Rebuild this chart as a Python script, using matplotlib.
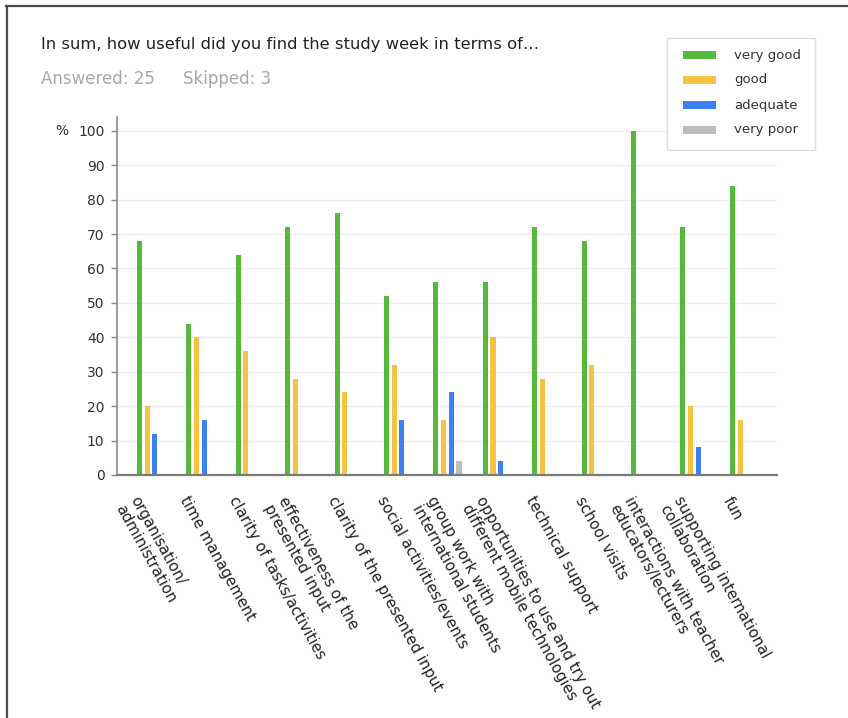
import matplotlib
matplotlib.use("Agg")
import matplotlib.pyplot as plt
import matplotlib.transforms as mtransforms
from matplotlib.lines import Line2D
from matplotlib.patches import Rectangle
import numpy as np

plt.rcParams["font.family"] = ["DejaVu Sans"]

# Survey results (% of respondents)
categories = [
    "organisation/\nadministration",
    "time management",
    "clarity of tasks/activities",
    "effectiveness of the\npresented input",
    "clarity of the presented input",
    "social activities/events",
    "group work with\ninternational students",
    "opportunities to use and try out\ndifferent mobile technologies",
    "technical support",
    "school visits",
    "interactions with teacher\neducators/lecturers",
    "supporting international\ncollaboration",
    "fun",
]
very_good = [68, 44, 64, 72, 76, 52, 56, 56, 72, 68, 100, 72, 84]
good = [20, 40, 36, 28, 24, 32, 16, 40, 28, 32, 0, 20, 16]
adequate = [12, 16, 0, 0, 0, 16, 24, 4, 0, 0, 0, 8, 0]
very_poor = [0, 0, 0, 0, 0, 0, 4, 0, 0, 0, 0, 0, 0]

series_names = ["very good", "good", "adequate", "very poor"]
series_values = [very_good, good, adequate, very_poor]
series_colors = ["#57b93c", "#f5c242", "#3b80f4", "#bdbdbd"]
y_ticks = [0, 10, 20, 30, 40, 50, 60, 70, 80, 90, 100]

W, H = 848, 718
fig = plt.figure(figsize=(W / 100, H / 100), dpi=100)
fig.patch.set_facecolor("white")

ax = fig.add_axes([117 / W, 243 / H, (777 - 117) / W, (601 - 243) / H])

x = np.arange(len(categories))
pitch = 0.156
bar_w = 0.102
for k, (name, vals, col) in enumerate(zip(series_names, series_values, series_colors)):
    offs = (k - 1.5) * pitch
    vals = np.array(vals, dtype=float)
    mask = vals > 0
    ax.bar(x[mask] + offs, vals[mask], width=bar_w, color=col, linewidth=0, zorder=3)

ax.set_xlim(-0.688, 12.67)
ax.set_ylim(0, 104)
ax.set_yticks(y_ticks)
ax.set_yticklabels([str(v) for v in y_ticks], fontsize=10, color="#333333")
ax.tick_params(axis="y", length=4, width=1, color="#888888", pad=5)
ax.set_xticks([])

for v in y_ticks[1:]:
    ax.axhline(v, color="#ececec", linewidth=1, zorder=1)

for s in ["top", "right"]:
    ax.spines[s].set_visible(False)
ax.spines["left"].set_color("#8a8a8a")
ax.spines["left"].set_linewidth(1.2)
ax.spines["bottom"].set_color("#7a7a7a")
ax.spines["bottom"].set_linewidth(1.6)
ax.spines["bottom"].set_zorder(4)

# rotated category labels
offset = mtransforms.ScaledTranslation(-10.5 / 100, -19 / 100, fig.dpi_scale_trans)
for i, lab in enumerate(categories):
    ax.text(i, 0, lab, transform=ax.transData + offset,
            rotation=-61, rotation_mode="anchor", ha="left", va="top",
            fontsize=10.8, color="#222222", linespacing=1.15)

# "%" unit next to the top tick
fig.text(55 / W, 1 - 131 / H, "%", fontsize=10, color="#333333", ha="left", va="center")

# heading
fig.text(41 / W, 1 - 45 / H, "In sum, how useful did you find the study week in terms of\u2026",
         fontsize=11.8, color="#222222", ha="left", va="center")
fig.text(41 / W, 1 - 79 / H, "Answered: 25", fontsize=12, color="#a8a8a8",
         ha="left", va="center")
fig.text(183 / W, 1 - 79 / H, "Skipped: 3", fontsize=12, color="#a8a8a8",
         ha="left", va="center")

# legend box with colour keys
def fx(px):
    return px / W

def fy(py):
    return 1 - py / H

fig.add_artist(Rectangle((fx(667), fy(150)), fx(815) - fx(667), fy(38) - fy(150),
                         transform=fig.transFigure, facecolor="white",
                         edgecolor="#dddddd", linewidth=1))
for k, (name, col) in enumerate(zip(series_names, series_colors)):
    cy = 55 + 25 * k
    fig.add_artist(Rectangle((fx(683), fy(cy + 4)), fx(716) - fx(683), 8 / H,
                             transform=fig.transFigure, facecolor=col, edgecolor="none"))
    fig.text(fx(734), fy(cy), name, fontsize=9.5, color="#333333", ha="left", va="center")

# panel border (top and left edges)
fig.add_artist(Line2D([6 / W, 1], [1 - 5.5 / H, 1 - 5.5 / H], transform=fig.transFigure,
                      color="#4a4a4a", linewidth=1.6))
fig.add_artist(Line2D([6.5 / W, 6.5 / W], [0, 1 - 5.5 / H], transform=fig.transFigure,
                      color="#4a4a4a", linewidth=1.6))

fig.savefig("out.png", dpi=100, facecolor="white")
